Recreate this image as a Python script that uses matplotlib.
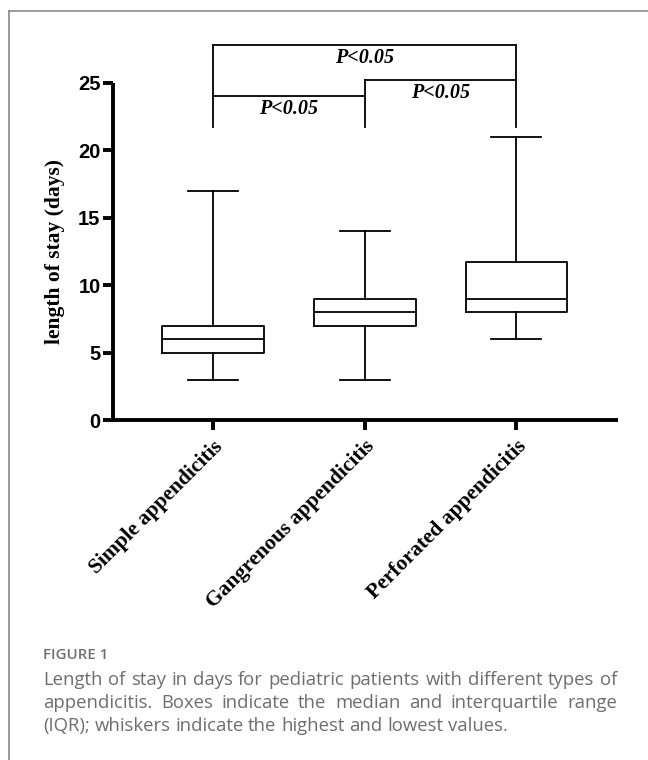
import numpy as np
import matplotlib
matplotlib.use('Agg')
import matplotlib.pyplot as plt
from matplotlib.lines import Line2D

# data
groups = ['Simple appendicitis', 'Gangrenous appendicitis', 'Perforated appendicitis']
lowest = [3, 3, 6]
q1 = [5, 7, 8]
median = [6, 8, 9]
q3 = [7, 9, 11.7]
highest = [17, 14, 21]

# significance brackets: (left group, right group, bar height, label)
brackets = [(1, 2, 24.0, 'P<0.05'), (2, 3, 25.2, 'P<0.05'), (1, 3, 27.8, 'P<0.05')]
bracket_base = 21.7

caption_head = 'FIGURE 1'
caption_lines = ['Length of stay in days for pediatric patients with different types of',
                 'appendicitis. Boxes indicate the median and interquartile range',
                 '(IQR); whiskers indicate the highest and lowest values.']

W, H = 648, 760
fig = plt.figure(figsize=(W / 100, H / 100), dpi=100)
ax = fig.add_axes([113 / W, 1 - 420 / H, 505 / W, 337 / H])

stats = []
for i in range(len(groups)):
    stats.append(dict(whislo=lowest[i], q1=q1[i], med=median[i], q3=q3[i],
                      whishi=highest[i], fliers=[]))

lw = 1.3
ax.bxp(stats, positions=[1, 2, 3], widths=0.67, capwidths=0.33,
       showfliers=False,
       boxprops=dict(color='black', linewidth=lw),
       medianprops=dict(color='black', linewidth=lw),
       whiskerprops=dict(color='black', linewidth=lw),
       capprops=dict(color='black', linewidth=lw))

ax.set_xlim(0.34, 3.67)
ax.set_ylim(0, 25)
ax.set_yticks([0, 5, 10, 15, 20, 25])
ax.spines['top'].set_visible(False)
ax.spines['right'].set_visible(False)
for s in ['left', 'bottom']:
    ax.spines[s].set_linewidth(2.8)
    ax.spines[s].set_capstyle('butt')
ax.tick_params(axis='both', width=2.8, length=7, direction='out')
ax.tick_params(axis='y', pad=2)
for lab in ax.get_yticklabels():
    lab.set_fontfamily('Liberation Sans')
    lab.set_fontweight('bold')
    lab.set_fontsize(14.5)
ax.set_xticks([1, 2, 3])
ax.set_xticklabels(groups, rotation=45, ha='right', rotation_mode='anchor',
                   family='Liberation Serif', fontweight='bold', fontsize=15.5)
ax.tick_params(axis='x', pad=5)
ax.set_ylabel('length of stay (days)', family='Liberation Serif',
              fontweight='bold', fontsize=15.5)
ax.yaxis.set_label_coords(-48 / 505, 0.5)

# brackets
ax.plot([1, 1], [bracket_base, 27.8], color='black', lw=lw, clip_on=False)
ax.plot([3, 3], [bracket_base, 27.8], color='black', lw=lw, clip_on=False)
ax.plot([2, 2], [bracket_base, 25.2], color='black', lw=lw, clip_on=False)
for x0, x1, yb, txt in brackets:
    ax.plot([x0, x1], [yb, yb], color='black', lw=lw, clip_on=False)
    ax.text((x0 + x1) / 2, yb - 0.2, txt, ha='center', va='top',
            family='Liberation Serif', fontweight='bold', style='italic',
            fontsize=14.5, clip_on=False)

# frame lines of the figure panel
fig.add_artist(Line2D([9 / W, 1], [1 - 11 / H, 1 - 11 / H], color='#8a8a8a', lw=1.2))
fig.add_artist(Line2D([9 / W, 9 / W], [0, 1 - 11 / H], color='#8a8a8a', lw=1.2))

# caption
cap_color = '#6e6e6e'
cap_size = 13.3
fig.text(43 / W, 1 - 655 / H, caption_head, color='#707070', family='Open Sans',
         fontweight='semibold', fontsize=10.8, va='center')
renderer = fig.canvas.get_renderer()
x_left, x_right = 43, 617
ys = [680, 703, 726]
for k, (line, yy) in enumerate(zip(caption_lines, ys)):
    words = line.split(' ')
    texts = [fig.text(0, 1 - yy / H, w, color=cap_color, family='Open Sans',
                      fontsize=cap_size, va='center') for w in words]
    widths = [t.get_window_extent(renderer).width for t in texts]
    if k < len(caption_lines) - 1:
        gap = (x_right - x_left - sum(widths)) / (len(words) - 1)
    else:
        sp = fig.text(0, 0, 'a a', fontsize=cap_size, family='Open Sans')
        sp2 = fig.text(0, 0, 'aa', fontsize=cap_size, family='Open Sans')
        gap = sp.get_window_extent(renderer).width - sp2.get_window_extent(renderer).width
        sp.remove()
        sp2.remove()
    x = x_left
    for t, w in zip(texts, widths):
        t.set_x(x / W)
        x += w + gap

fig.savefig('out.png', dpi=100)
